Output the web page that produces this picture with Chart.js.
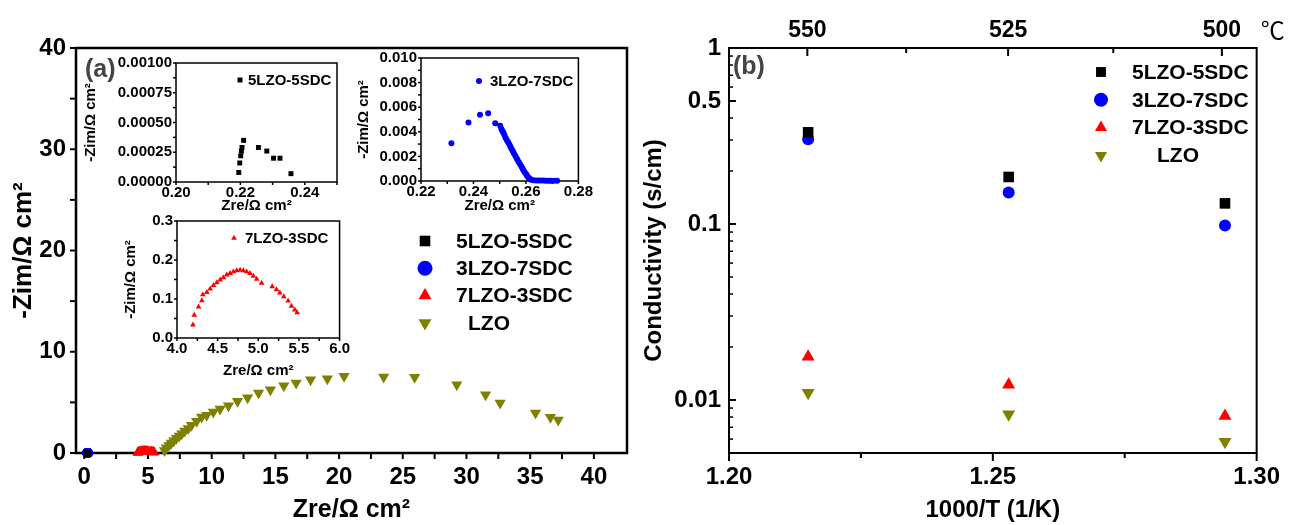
<!DOCTYPE html>
<html lang="en">
<head>
<meta charset="UTF-8">
<title>Impedance spectra and conductivity of LZO-SDC composites</title>
<script src="https://cdn.jsdelivr.net/npm/chart.js"></script>
<style>
  body { margin: 0; background: #fff; }
  #wrap { position: relative; width: 1290px; height: 525px; overflow: hidden; background: #fff; }
  #wrap canvas { position: absolute; }
</style>
</head>
<body>
<div id="wrap">
  <canvas id="chartA" width="640" height="525" style="left:0;top:0;width:640px;height:525px"></canvas>
  <canvas id="chartB" width="654" height="525" style="left:636px;top:0;width:654px;height:525px"></canvas>
  <canvas id="inset5" width="270" height="165" style="left:80px;top:50px;width:270px;height:165px"></canvas>
  <canvas id="inset3" width="250" height="170" style="left:345px;top:45px;width:250px;height:170px"></canvas>
  <canvas id="inset7" width="242" height="172" style="left:110px;top:208px;width:242px;height:172px"></canvas>
</div>
<script>
const FONT = "'Liberation Sans', Arial, sans-serif";

// Nyquist data, Zre / -Zim in ohm cm2
const zre5 = [0.2195, 0.2198, 0.2201, 0.2203, 0.2205, 0.2210, 0.2256, 0.2282, 0.2303, 0.2323, 0.2357];
const zim5 = [0.00008, 0.00016, 0.00022, 0.00026, 0.00029, 0.00035, 0.00029, 0.00026, 0.00020, 0.00020, 0.00007];

const zre3 = [0.2316, 0.2381, 0.2425, 0.2456, 0.2483, 0.2502, 0.2506, 0.2510, 0.2514, 0.2518, 0.2522,
              0.2527, 0.2532, 0.2537, 0.2541, 0.2545, 0.2550, 0.2554, 0.2559, 0.2564, 0.2568, 0.2573,
              0.2578, 0.2583, 0.2587, 0.2591, 0.2596, 0.2601, 0.2605, 0.2610, 0.2615, 0.2620, 0.2628,
              0.2638, 0.2648, 0.2657, 0.2667, 0.2676, 0.2686, 0.2695, 0.2707, 0.2719];
const zim3 = [0.00306, 0.00476, 0.00538, 0.00551, 0.00470, 0.00449, 0.00425, 0.00409, 0.00392, 0.00374, 0.00352,
              0.00333, 0.00315, 0.00296, 0.00278, 0.00261, 0.00243, 0.00226, 0.00207, 0.00188, 0.00170, 0.00153,
              0.00135, 0.00118, 0.00102, 0.00086, 0.00070, 0.00054, 0.00040, 0.00027, 0.00018, 0.00011, 0.00007,
              0.00005, 0.00005, 0.00005, 0.00004, 0.00003, 0.00003, 0.00003, 0.00002, 0.00002];

const zre7 = [4.196, 4.212, 4.265, 4.306, 4.318, 4.367, 4.408, 4.449, 4.490, 4.531, 4.571, 4.612, 4.653, 4.694, 4.735,
              4.776, 4.816, 4.857, 4.898, 4.939, 4.980, 5.041, 5.171, 5.224, 5.265, 5.314, 5.367, 5.408, 5.449, 5.478];
const zim7 = [0.034, 0.059, 0.080, 0.096, 0.111, 0.117, 0.126, 0.135, 0.142, 0.149, 0.155, 0.162, 0.166, 0.170, 0.173,
              0.174, 0.173, 0.170, 0.166, 0.159, 0.151, 0.141, 0.132, 0.124, 0.116, 0.106, 0.095, 0.082, 0.072, 0.065];

const zreL = [6.30, 6.45, 6.66, 6.84, 7.03, 7.24, 7.45, 7.66, 7.89, 8.16, 8.42, 8.82, 9.21, 9.61, 10.13, 10.66, 11.32,
              12.03, 12.82, 13.68, 14.61, 15.66, 16.63, 17.76, 19.08, 20.39, 23.50, 25.93, 29.24, 31.50, 32.64,
              35.42, 36.59, 37.20];
const zimL = [0.25, 0.53, 0.76, 0.99, 1.22, 1.45, 1.68, 1.91, 2.17, 2.43, 2.73, 3.13, 3.55, 3.72, 4.05, 4.34, 4.67,
              5.10, 5.46, 5.92, 6.25, 6.64, 6.91, 7.24, 7.34, 7.57, 7.50, 7.47, 6.74, 5.76, 4.93,
              3.95, 3.52, 3.26];

// Conductivity vs 1000/T
const invT = [1.215, 1.253, 1.294];
const sig5 = [0.332, 0.185, 0.131];
const sig3 = [0.303, 0.151, 0.098];
const sig7 = [0.0176, 0.0122, 0.0081];
const sigL = [0.0110, 0.0083, 0.0058];

// axis labels
const condTicks = [0.01, 0.1, 0.5, 1];
const condMinor = [0.006, 0.007, 0.008, 0.009, 0.02, 0.03, 0.04, 0.05, 0.06, 0.07, 0.08, 0.09,
                   0.2, 0.3, 0.4, 0.6, 0.7, 0.8, 0.9];
const invTTicks = [1.20, 1.25, 1.30];
const invTMinor = [1.225, 1.275];
const tempTicks = [550, 525, 500];
const tempMinor = [537.5, 512.5];

const names = ['5LZO-5SDC', '3LZO-7SDC', '7LZO-3SDC', 'LZO'];
const colors = ['#000000', '#0000ff', '#ff0000', '#808000'];
const styles = ['rect', 'circle', 'triangle', 'triangle'];
const turns = [0, 0, 0, 180];

function steps(a, b, s) {
  const out = [];
  for (let v = a; v <= b + s * 1e-6; v += s) out.push(+v.toFixed(6));
  return out;
}
const toInvT = t => 1000 / (t + 273.15);

function series(k, xs, ys, r) {
  return {
    label: names[k],
    data: xs.map((x, i) => ({ x: x, y: ys[i] })),
    pointStyle: styles[k], pointRotation: turns[k],
    pointRadius: r, pointHoverRadius: r,
    backgroundColor: colors[k], borderColor: colors[k],
    pointBorderWidth: 0, showLine: false, clip: false
  };
}

function axis(opt) {
  const a = {
    type: opt.type || 'linear', position: opt.pos, min: opt.min, max: opt.max,
    grid: { display: false, drawTicks: false },
    border: { display: false },
    afterBuildTicks: s => { s.ticks = opt.labels.map(v => ({ value: v })); },
    ticks: {
      callback: opt.fmt, autoSkip: false, maxRotation: 0,
      font: { family: FONT, size: opt.size, weight: 'bold' }, color: '#000', padding: opt.pad
    },
    title: opt.title ? {
      display: true, text: opt.title, color: '#000',
      font: { family: FONT, size: opt.tsize, weight: 'bold' }, padding: { top: opt.tpad, bottom: 0 }
    } : { display: false }
  };
  if (opt.pos === 'left' || opt.pos === 'right') a.afterFit = s => { s.width = opt.box; };
  else a.afterFit = s => { s.height = opt.box; };
  return a;
}

// box around the plot plus tick marks taken from the scales
function makeFrame(lw, marks) {
  return {
    id: 'frame',
    beforeDatasetsDraw(chart) {
      const ctx = chart.ctx, a = chart.chartArea;
      ctx.save();
      ctx.strokeStyle = '#000';
      marks.forEach(m => {
        const sc = chart.scales[m.scale];
        const sgn = (m.side === 'bottom' || m.side === 'right') ? 1 : -1;
        const d = m.out ? sgn * m.len : -sgn * m.len;
        ctx.lineWidth = m.lw || lw;
        m.values.forEach(v => {
          const p = sc.getPixelForValue(v);
          ctx.beginPath();
          if (m.side === 'bottom') { ctx.moveTo(p, a.bottom); ctx.lineTo(p, a.bottom + d); }
          if (m.side === 'top') { ctx.moveTo(p, a.top); ctx.lineTo(p, a.top + d); }
          if (m.side === 'left') { ctx.moveTo(a.left, p); ctx.lineTo(a.left + d, p); }
          ctx.stroke();
        });
      });
      ctx.lineWidth = lw;
      ctx.strokeRect(a.left, a.top, a.right - a.left, a.bottom - a.top);
      ctx.restore();
    }
  };
}

// legend block placed inside the plot, plus panel tags
function makeKey(k) {
  return {
    id: 'key',
    afterDatasetsDraw(chart) {
      const ctx = chart.ctx, a = chart.chartArea;
      ctx.save();
      chart.data.datasets.forEach((ds, i) => {
        const x = a.left + k.dx, y = a.top + k.dy + i * (k.row || 0);
        ctx.fillStyle = ds.backgroundColor;
        Chart.helpers.drawPoint(ctx, {
          pointStyle: ds.pointStyle, rotation: ds.pointRotation || 0, radius: k.r, borderWidth: 0
        }, x, y);
        ctx.fillStyle = '#000';
        ctx.font = 'bold ' + k.size + 'px ' + FONT;
        ctx.textBaseline = 'middle';
        ctx.textAlign = 'left';
        ctx.fillText(ds.label, x + k.gap + ((k.indent && k.indent[i]) || 0), y + 1);
      });
      (k.texts || []).forEach(t => {
        ctx.fillStyle = t.color || '#000';
        ctx.font = t.font;
        ctx.textBaseline = 'middle';
        ctx.textAlign = 'left';
        const x = t.fromRight ? a.right + t.dx : a.left + t.dx;
        ctx.fillText(t.text, x, t.absY !== undefined ? t.absY : a.top + t.dy);
      });
      ctx.restore();
    }
  };
}

function baseOptions(pad) {
  return {
    responsive: false, animation: false, events: [],
    layout: { padding: pad },
    plugins: { legend: { display: false }, tooltip: { enabled: false } }
  };
}

// (a) impedance spectra
{
  const opts = baseOptions({ top: 48, right: 13, left: 0, bottom: 0 });
  opts.scales = {
    x: axis({ pos: 'bottom', min: -0.65, max: 42.6, labels: steps(0, 40, 5), fmt: v => v,
              size: 24, pad: 10, box: 72, title: 'Zre/\u03A9 cm\u00B2', tsize: 25, tpad: 5 }),
    y: axis({ pos: 'left', min: 0, max: 40, labels: steps(0, 40, 10), fmt: v => v,
              size: 24, pad: 10, box: 76, title: '-Zim/\u03A9 cm\u00B2', tsize: 26, tpad: 8 })
  };
  new Chart(document.getElementById('chartA'), {
    type: 'scatter',
    data: { datasets: [
      series(0, zre5, zim5, 5.5), series(1, zre3, zim3, 5),
      series(2, zre7, zim7, 6), series(3, zreL, zimL, 6.5)
    ] },
    options: opts,
    plugins: [
      makeFrame(2.5, [
        { scale: 'x', side: 'bottom', values: steps(0, 40, 2.5), len: 6, out: true, lw: 2 },
        { scale: 'y', side: 'left', values: steps(0, 40, 5), len: 6, out: true, lw: 2 }
      ]),
      makeKey({ dx: 349, dy: 193, row: 27.3, r: 7.5, gap: 31, size: 21, indent: [0, 0, 0, 12],
                texts: [{ text: '(a)', dx: 9, dy: 22, font: 'bold 25px ' + FONT, color: '#444' }] })
    ]
  });
}

// (b) conductivity, Arrhenius scale with temperature on top
{
  const opts = baseOptions({ top: 0, right: 22, left: 0, bottom: 0 });
  opts.scales = {
    x: axis({ pos: 'bottom', min: 1.2, max: 1.3, labels: invTTicks, fmt: v => v.toFixed(2),
              size: 24, pad: 10, box: 72, title: '1000/T (1/K)', tsize: 24, tpad: 5 }),
    x2: axis({ pos: 'top', min: 1.2, max: 1.3, labels: tempTicks.map(toInvT),
               fmt: (v, i) => tempTicks[i], size: 23, pad: 4, box: 48 }),
    y: axis({ type: 'logarithmic', pos: 'left', min: 0.005, max: 1, labels: condTicks, fmt: v => String(v),
              size: 24, pad: 8, box: 93, title: 'Conductivity (s/cm)', tsize: 24, tpad: 4 })
  };
  new Chart(document.getElementById('chartB'), {
    type: 'scatter',
    data: { datasets: [
      series(0, invT, sig5, 7.5), series(1, invT, sig3, 6),
      series(2, invT, sig7, 7.5), series(3, invT, sigL, 7.5)
    ] },
    options: opts,
    plugins: [
      makeFrame(2, [
        { scale: 'x', side: 'bottom', values: invTTicks, len: 8, out: true },
        { scale: 'x', side: 'bottom', values: invTMinor, len: 5, out: true },
        { scale: 'x2', side: 'top', values: tempTicks.map(toInvT), len: 8, out: false },
        { scale: 'x2', side: 'top', values: tempMinor.map(toInvT), len: 5, out: false },
        { scale: 'y', side: 'left', values: condTicks, len: 7, out: false },
        { scale: 'y', side: 'left', values: condMinor, len: 4, out: false, lw: 1.5 }
      ]),
      makeKey({ dx: 372, dy: 24, row: 27.8, r: 7, gap: 31, size: 21, indent: [0, 0, 0, 25],
                texts: [
                  { text: '(b)', dx: 4, dy: 19, font: 'bold 25px ' + FONT, color: '#444' },
                  { text: '\u2103', dx: 4, fromRight: true, absY: 30, font: '24px "Noto Sans CJK SC"' }
                ] })
    ]
  });
}

// small zoomed views of the high-frequency arcs
function inset(id, k, xs, ys, r, cfg) {
  const opts = baseOptions({ top: cfg.top, right: cfg.right, left: 0, bottom: 0 });
  opts.scales = {
    x: axis({ pos: 'bottom', min: cfg.xr[0], max: cfg.xr[1], labels: cfg.xl, fmt: v => v.toFixed(cfg.xd),
              size: 15, pad: 2, box: cfg.xbox, title: 'Zre/\u03A9 cm\u00B2', tsize: 15, tpad: cfg.xtp }),
    y: axis({ pos: 'left', min: cfg.yr[0], max: cfg.yr[1], labels: cfg.yl, fmt: v => v.toFixed(cfg.yd),
              size: 15, pad: 4, box: cfg.ybox, title: '-Zim/\u03A9 cm\u00B2', tsize: 15, tpad: cfg.ytp })
  };
  new Chart(document.getElementById(id), {
    type: 'scatter',
    data: { datasets: [series(k, xs, ys, r)] },
    options: opts,
    plugins: [
      makeFrame(1.5, [
        { scale: 'x', side: 'bottom', values: cfg.xm, len: 3, out: true },
        { scale: 'y', side: 'left', values: cfg.ym, len: 3, out: true }
      ]),
      makeKey({ dx: cfg.kx, dy: cfg.ky, r: r, gap: cfg.kg, size: 15 })
    ]
  });
}

inset('inset5', 0, zre5, zim5, 3.5, {
  top: 11, right: 13, xbox: 33, ybox: 96, xtp: 1, ytp: 2,
  xr: [0.20, 0.25], xl: [0.20, 0.22, 0.24], xm: steps(0.20, 0.25, 0.01), xd: 2,
  yr: [0, 0.001], yl: steps(0, 0.001, 0.00025), ym: steps(0, 0.001, 0.000125), yd: 5,
  kx: 64, ky: 17, kg: 8
});
inset('inset3', 1, zre3, zim3, 3, {
  top: 12, right: 13, xbox: 34, ybox: 76, xtp: 1, ytp: 10,
  xr: [0.22, 0.28], xl: [0.22, 0.24, 0.26, 0.28], xm: steps(0.22, 0.28, 0.01), xd: 2,
  yr: [0, 0.01], yl: steps(0, 0.01, 0.002), ym: steps(0, 0.01, 0.001), yd: 3,
  kx: 58, ky: 23, kg: 11
});
inset('inset7', 2, zre7, zim7, 3.3, {
  top: 10, right: 12, xbox: 42, ybox: 67, xtp: 5, ytp: 12,
  xr: [4.0, 6.0], xl: steps(4, 6, 0.5), xm: steps(4, 6, 0.25), xd: 1,
  yr: [0, 0.3], yl: steps(0, 0.3, 0.1), ym: steps(0, 0.3, 0.05), yd: 1,
  kx: 57, ky: 17, kg: 11
});
</script>
</body>
</html>
